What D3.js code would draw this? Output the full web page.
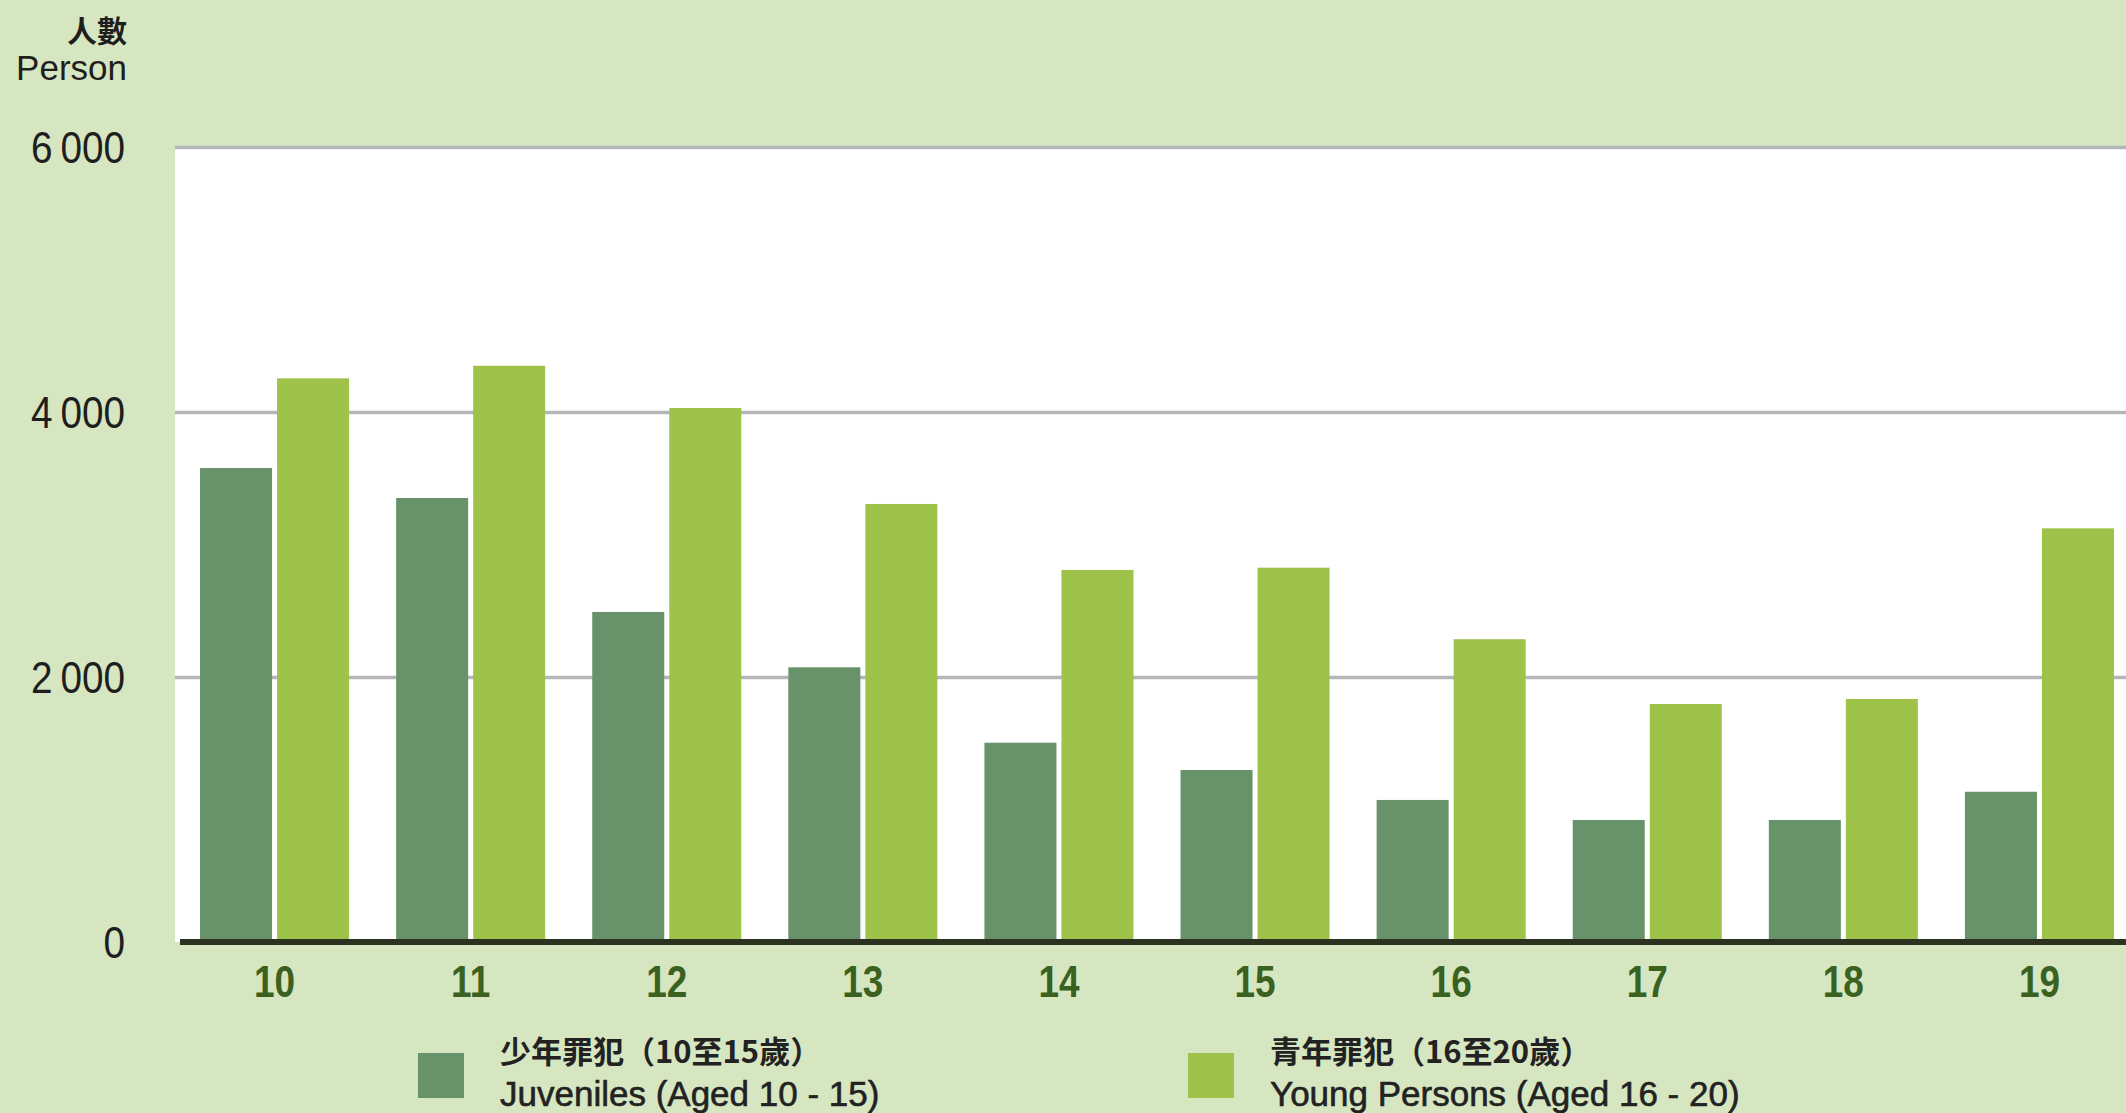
<!DOCTYPE html>
<html>
<head>
<meta charset="utf-8">
<script src="https://cdn.jsdelivr.net/npm/d3@7"></script>
<style>
  body { margin: 0; background: #d6e6c0; }
  svg { display: block; }
</style>
</head>
<body>
<div id="chart"></div>
<script>
//Data
var years = ["10", "11", "12", "13", "14", "15", "16", "17", "18", "19"]
var juveniles = [3577, 3351, 2491, 2073, 1504, 1298, 1072, 921, 921, 1134]
var youngPersons = [4254, 4349, 4030, 3306, 2808, 2825, 2285, 1796, 1834, 3122]
var yTicks = [0, 2000, 4000, 6000]
var seriesNames = ["juveniles", "young"]
var legendZh = ["少年罪犯（10至15歲）", "青年罪犯（16至20歲）"]
var legendEn = ["Juveniles (Aged 10 - 15)", "Young Persons (Aged 16 - 20)"]
var colors = ["#67926a", "#9ec24a"]

var width = 2126
var height = 1113

var margin = {
            top: 147,
            left: 175,
            bottom: 942
        };

var svg = d3.select("#chart")
            .append("svg")
            .attr("width", width)
            .attr("height", height)

//Background
svg.append("rect")
   .attr("width", width)
   .attr("height", height)
   .attr("fill", "#d6e6c0")

//White plot area
svg.append("rect")
   .attr("x", margin.left)
   .attr("y", margin.top)
   .attr("width", width - margin.left)
   .attr("height", margin.bottom - margin.top)
   .attr("fill", "#ffffff")

//Scales
var x0 = d3.scaleBand()
           .domain(years)
           .range([176.5, 2137.5])
           .paddingInner(0.24)
           .paddingOuter(0.12)

var x1 = d3.scaleBand()
           .domain(seriesNames)
           .range([0, x0.bandwidth()])
           .paddingInner(0.065)

var y = d3.scaleLinear()
          .domain([0, 6000])
          .range([margin.bottom, margin.top])

var fmt = d3.formatLocale({decimal: ".", thousands: "\u2009", grouping: [3], currency: ["", ""]}).format(",")

//Grid lines
svg.append("g")
   .attr("class", "grid")
   .attr("transform", "translate(" + margin.left + ",0)")
   .call(d3.axisLeft(y)
           .tickValues(yTicks.filter(function(d){ return d > 0 }))
           .tickSize(-(width - margin.left))
           .tickFormat(""))
   .call(function(g){
     g.select(".domain").remove()
     g.selectAll("line")
      .attr("stroke", "#b6b6ba")
      .attr("stroke-width", 3.5)
   })

//Y axis labels (narrowed to match the condensed face of the original)
svg.append("g")
   .attr("class", "y axis")
   .attr("transform", "translate(125,0)")
   .call(d3.axisLeft(y)
           .tickValues(yTicks)
           .tickSize(0)
           .tickPadding(0)
           .tickFormat(fmt))
   .call(function(g){
     g.select(".domain").remove()
     g.selectAll("text")
      .attr("dy", "0.36em")
      .attr("transform", "scale(0.88,1)")
      .style("font-family", "'Liberation Sans', Arial, sans-serif")
      .style("font-size", "44px")
      .attr("fill", "#1e1e1e")
   })

//Bars
var rows = years.map(function(yr, i){
  return {year: yr, values: [juveniles[i], youngPersons[i]]}
})

var groups = svg.append("g")
                .selectAll("g")
                .data(rows)
                .enter()
                .append("g")
                .attr("transform", function(d){ return "translate(" + x0(d.year) + ",0)" })

groups.selectAll("rect")
      .data(function(d){ return d.values.map(function(v, j){ return {key: seriesNames[j], value: v, j: j} }) })
      .enter()
      .append("rect")
      .attr("x", function(d){ return x1(d.key) })
      .attr("width", x1.bandwidth())
      .attr("y", function(d){ return y(d.value) })
      .attr("height", function(d){ return y(0) - y(d.value) })
      .attr("fill", function(d){ return colors[d.j] })

//X axis (baseline + year labels)
svg.append("g")
   .attr("class", "x axis")
   .attr("transform", "translate(0," + margin.bottom + ")")
   .call(d3.axisBottom(x0)
           .tickSize(0)
           .tickPadding(0))
   .call(function(g){
     g.select(".domain")
      .attr("d", "M180,0H" + width)
      .attr("stroke", "#2b3320")
      .attr("stroke-width", 6)
     g.selectAll("text")
      .attr("y", 55)
      .attr("dy", 0)
      .attr("transform", "scale(0.84,1)")
      .style("font-family", "'Liberation Sans', Arial, sans-serif")
      .style("font-weight", "bold")
      .style("font-size", "44px")
      .attr("fill", "#3a6120")
   })

//Unit label
svg.append("text")
   .text("人數")
   .attr("x", 127)
   .attr("y", 42)
   .attr("text-anchor", "end")
   .style("font-family", "'Noto Sans CJK TC', sans-serif")
   .style("font-weight", "bold")
   .style("font-size", "30px")
   .attr("fill", "#1e1e1e")

svg.append("text")
   .text("Person")
   .attr("x", 127)
   .attr("y", 80)
   .attr("text-anchor", "end")
   .style("font-family", "'Liberation Sans', Arial, sans-serif")
   .style("font-size", "35px")
   .attr("fill", "#1e1e1e")

//Legend
var legendX = [418, 1188]

var legend = svg.append("g")
                .selectAll("g")
                .data(legendX)
                .enter()
                .append("g")
                .attr("transform", function(d){ return "translate(" + d + ",0)" })

legend.append("rect")
      .attr("y", 1053)
      .attr("width", 46)
      .attr("height", 45)
      .attr("fill", function(d, i){ return colors[i] })

legend.append("text")
      .text(function(d, i){ return legendZh[i] })
      .attr("x", 82)
      .attr("y", 1063)
      .style("font-family", "'Noto Sans CJK TC', sans-serif")
      .style("font-weight", "bold")
      .style("font-size", "31px")
      .attr("fill", "#222")

legend.append("text")
      .text(function(d, i){ return legendEn[i] })
      .attr("x", 82)
      .attr("y", 1106)
      .style("font-family", "'Liberation Sans', Arial, sans-serif")
      .style("font-size", "35px")
      .attr("fill", "#222")
      .attr("stroke", "#222")
      .attr("stroke-width", 0.6)
</script>
</body>
</html>
